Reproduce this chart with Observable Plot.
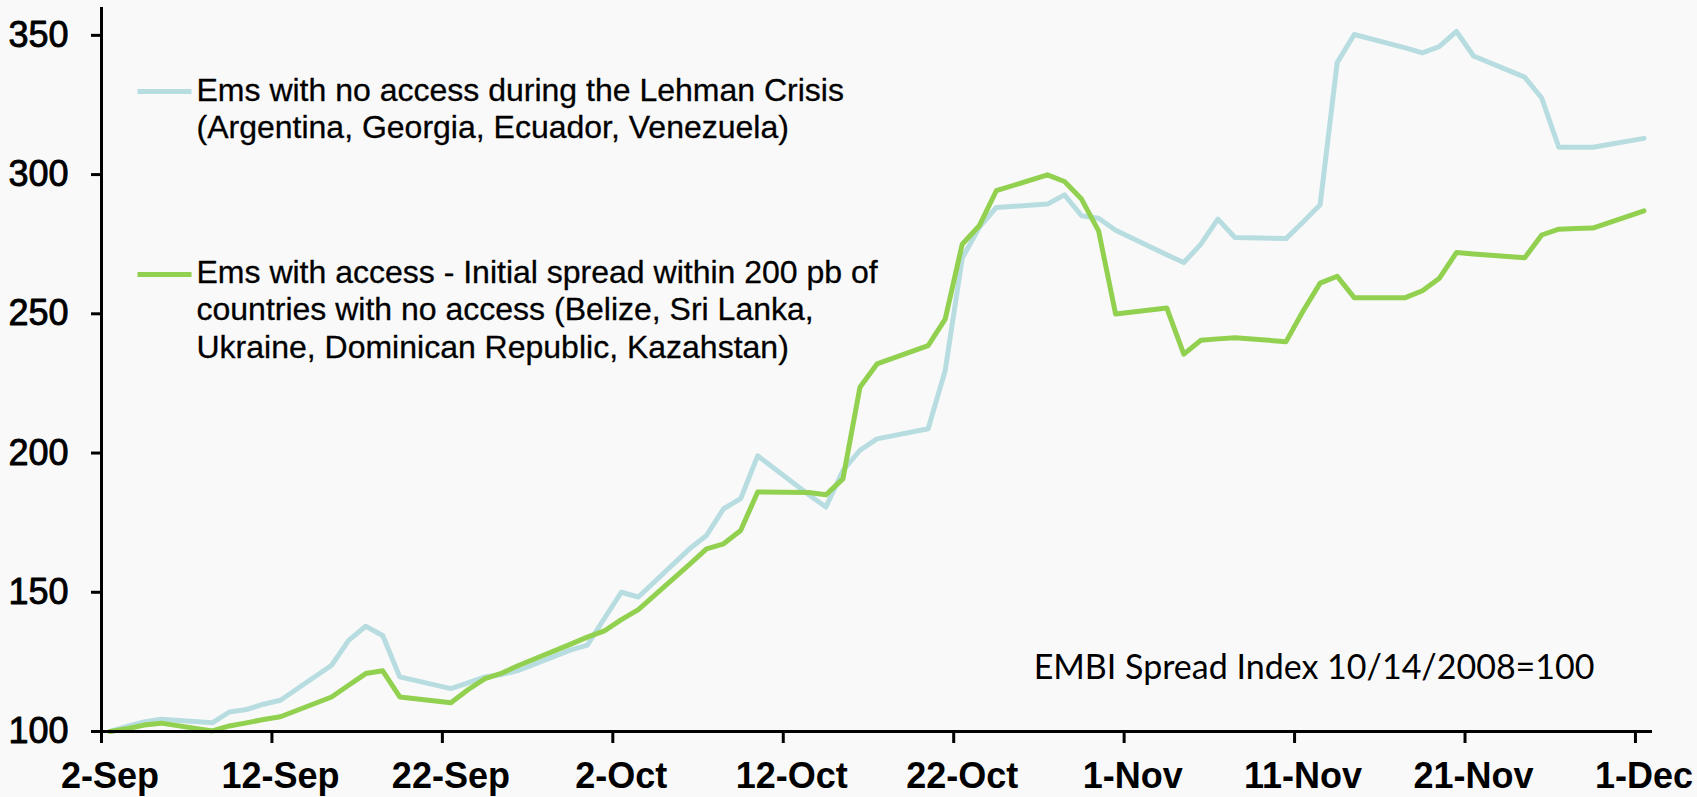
<!DOCTYPE html>
<html><head><meta charset="utf-8">
<script src="https://cdn.jsdelivr.net/npm/d3@7"></script>
<script src="https://cdn.jsdelivr.net/npm/@observablehq/plot@0.6"></script>
<style>
html,body{margin:0;padding:0;background:#f9f9f9;}
#chart svg{display:block;}
</style></head><body><div id="chart"></div>
<script>
// Business days plotted
const dates = [
  "2008-09-02","2008-09-03","2008-09-04","2008-09-05",
  "2008-09-08","2008-09-09","2008-09-10","2008-09-11","2008-09-12",
  "2008-09-15","2008-09-16","2008-09-17","2008-09-18","2008-09-19",
  "2008-09-22","2008-09-23","2008-09-24","2008-09-25","2008-09-26",
  "2008-09-29","2008-09-30","2008-10-01","2008-10-02","2008-10-03",
  "2008-10-06","2008-10-07","2008-10-08","2008-10-09","2008-10-10",
  "2008-10-13","2008-10-14","2008-10-15","2008-10-16","2008-10-17",
  "2008-10-20","2008-10-21","2008-10-22","2008-10-23","2008-10-24",
  "2008-10-27","2008-10-28","2008-10-29","2008-10-30","2008-10-31",
  "2008-11-03","2008-11-04","2008-11-05","2008-11-06","2008-11-07",
  "2008-11-10","2008-11-11","2008-11-12","2008-11-13","2008-11-14",
  "2008-11-17","2008-11-18","2008-11-19","2008-11-20","2008-11-21",
  "2008-11-24","2008-11-25","2008-11-26","2008-11-27","2008-11-28",
  "2008-12-01"
];
// Ems with no access during the Lehman Crisis
const noAccess = [
  100, 101.8, 103.4, 104.4,
  103.1, 107, 107.9, 109.8, 111.2,
  123.8, 132.7, 137.8, 134.5, 119.6,
  115.4, 117.5, 119.6, 120.5, 122,
  129.2, 131, 140.5, 150, 148.3,
  165.6, 170.4, 180, 183.6, 199,
  185, 180.6, 193.7, 201, 205.1,
  208.7, 229.6, 270, 281, 288.2,
  289.4, 292.7, 285.2, 284.3, 280,
  271.2, 268.4, 275, 284, 277.4,
  277, 283, 289.2, 340.2, 350.3,
  345.5, 343.7, 346, 351.4, 342.6,
  335, 327.5, 309.8, 309.8, 309.8,
  313
];
// Ems with access - initial spread within 200 pb of countries with no access
const withAccess = [
  100, 101, 102.3, 103,
  100.2, 102, 103.1, 104.3, 105.3,
  112.4, 116.6, 120.8, 121.8, 112.4,
  110.3, 115, 119, 121, 123.8,
  131.3, 133.9, 136.1, 140.2, 143.8,
  160, 165.6, 167.4, 172.2, 186,
  185.8, 185, 190.7, 223.6, 232,
  238.6, 248.1, 275, 281.6, 294.2,
  299.9, 297.5, 291.2, 279.8, 249.9,
  252.1, 235.5, 240.5, 241, 241.4,
  240, 251, 261, 263.5, 255.8,
  255.8, 258.3, 262.8, 272, 271.5,
  270.1, 278.3, 280.4, 280.6, 280.8,
  287
];
const seriesNames = [
  "Ems with no access during the Lehman Crisis\n(Argentina, Georgia, Ecuador, Venezuela)",
  "Ems with access - Initial spread within 200 pb of\ncountries with no access (Belize, Sri Lanka,\nUkraine, Dominican Republic, Kazahstan)"
];
const seriesColors = ["#b8dde1", "#92d050"];
const tickDates = ["2008-09-02","2008-09-12","2008-09-22","2008-10-02","2008-10-12","2008-10-22","2008-11-01","2008-11-11","2008-11-21","2008-12-01"];
const tickLabels = ["2-Sep","12-Sep","22-Sep","2-Oct","12-Oct","22-Oct","1-Nov","11-Nov","21-Nov","1-Dec"];
const yTicks = [100, 150, 200, 250, 300, 350];
const yDomain = [100, 360];
const xDomain = ["2008-09-02", "2008-12-02"];
const note = "EMBI Spread Index 10/14/2008=100";

const dayStart = s => new Date(s + "T00:00:00Z");
const noon = s => new Date(s + "T12:00:00Z");
const rows = seriesNames.flatMap((name, k) =>
  dates.map((d, i) => ({date: noon(d), value: (k === 0 ? noAccess : withAccess)[i], series: name})));
const labelByTime = new Map(tickDates.map((d, i) => [+noon(d), tickLabels[i]]));

const lineSymbol = {draw(ctx) { ctx.moveTo(-27, 0); ctx.lineTo(27, 0); }};

const chart = Plot.plot({
  width: 1697, height: 797,
  marginTop: 7, marginRight: 45, marginBottom: 66, marginLeft: 101,
  style: {background: "#f9f9f9", color: "black", fontFamily: "'Liberation Sans', Arial, sans-serif"},
  x: {type: "utc", domain: xDomain.map(dayStart)},
  y: {domain: yDomain},
  color: {domain: seriesNames, range: seriesColors},
  marks: [
    Plot.line(rows, {x: "date", y: "value", z: "series", stroke: "series", strokeWidth: 5, strokeLinejoin: "round"}),
    Plot.ruleY([yDomain[0]], {stroke: "black", strokeWidth: 3}),
    Plot.ruleX([dayStart(xDomain[0])], {stroke: "black", strokeWidth: 3}),
    Plot.axisY({ticks: yTicks, tickSize: 10, tickPadding: 23, fontSize: 36, strokeWidth: 3, label: null,
      textStroke: "black", textStrokeWidth: 0.9, tickFormat: d => String(d)}),
    Plot.axisX({ticks: tickDates.map(dayStart), tickSize: 12, strokeWidth: 3, tickFormat: () => "", label: null}),
    Plot.axisX({ticks: tickDates.map(noon), tickSize: 0, tickPadding: 31, fontSize: 36, fontWeight: "bold", label: null, tickFormat: d => labelByTime.get(+d)}),
    // legend
    Plot.dot([seriesNames[0]], {frameAnchor: "top-left", dx: 63, dy: 84, symbol: lineSymbol, stroke: seriesColors[0], strokeWidth: 5, fill: "none"}),
    Plot.text([seriesNames[0]], {frameAnchor: "top-left", dx: 95, dy: 130.5, text: d => d, textAnchor: "start", lineAnchor: "bottom", lineHeight: 1.16, fontSize: 32, fill: "black", stroke: "black", strokeWidth: 0.3}),
    Plot.dot([seriesNames[1]], {frameAnchor: "top-left", dx: 63, dy: 267, symbol: lineSymbol, stroke: seriesColors[1], strokeWidth: 5, fill: "none"}),
    Plot.text([seriesNames[1]], {frameAnchor: "top-left", dx: 95, dy: 350, text: d => d, textAnchor: "start", lineAnchor: "bottom", lineHeight: 1.16, fontSize: 32, fill: "black", stroke: "black", strokeWidth: 0.3}),
    Plot.text([note], {frameAnchor: "bottom-right", dx: -58, dy: -52.5, text: d => d, textAnchor: "end", lineAnchor: "bottom", fontSize: 34, fontFamily: "Lato", fill: "black"})
  ]
});
document.getElementById("chart").appendChild(chart);
</script>
</body></html>
